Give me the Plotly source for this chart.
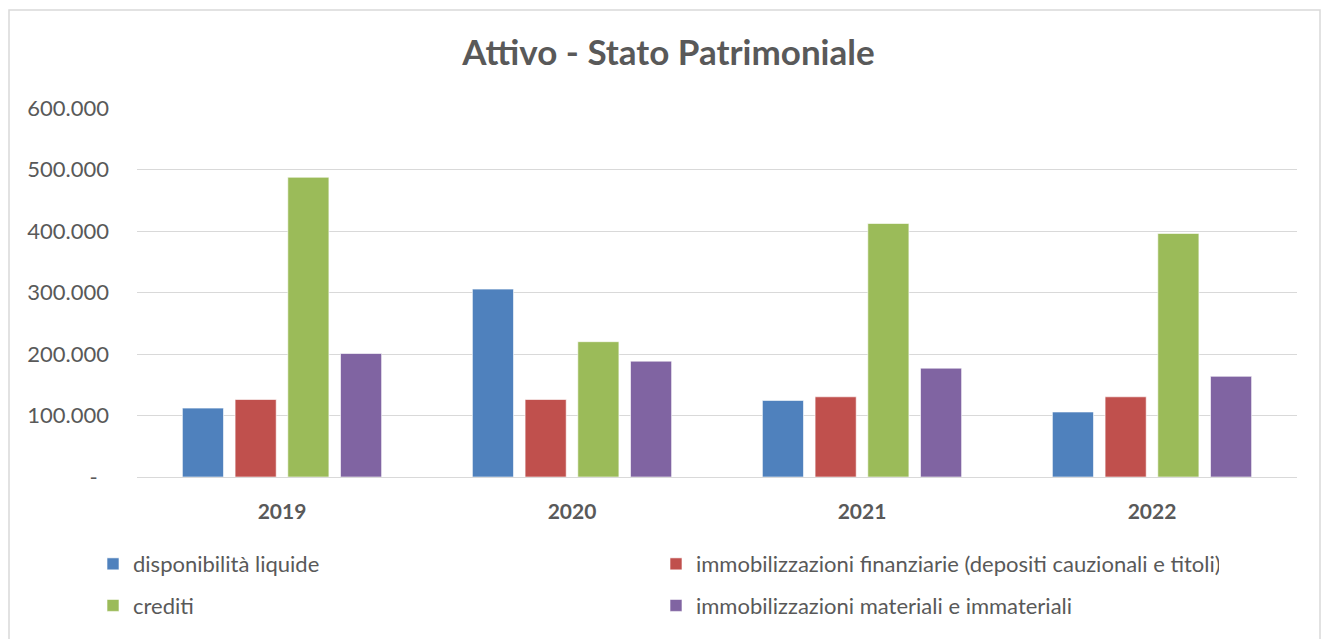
import plotly.graph_objects as go

# Dati (valori in euro)
anni = ["2019", "2020", "2021", "2022"]
disponibilita_liquide = [112000, 305500, 124500, 105700]
immob_finanziarie = [126000, 126000, 130400, 130400]
crediti = [487400, 220000, 412200, 396000]
immob_materiali = [200800, 188400, 177000, 163700]

serie = [
    ("disponibilità liquide", disponibilita_liquide, "#4F81BD", "legend"),
    ("immobilizzazioni finanziarie (depositi cauzionali e titoli)", immob_finanziarie, "#C0504D", "legend"),
    ("crediti", crediti, "#9BBB59", "legend2"),
    ("immobilizzazioni materiali e immateriali", immob_materiali, "#8064A2", "legend2"),
]

y_tick_vals = [0, 100000, 200000, 300000, 400000, 500000, 600000]
y_tick_text = ["-\u00a0\u00a0", "100.000", "200.000", "300.000", "400.000", "500.000", "600.000"]

FONT = "Lato"
GRIGIO = "#595959"

fig = go.Figure()

for nome, valori, colore, leg in serie:
    fig.add_trace(go.Bar(
        x=anni,
        y=valori,
        name=nome,
        legend=leg,
        marker=dict(color=colore, line=dict(color="rgba(255,255,255,0.6)", width=1)),
    ))

# la pagina ha 8px di margine: la figura occupa il resto della finestra
OFF = 8
W, H = 1329 - OFF, 639 - OFF
# area del grafico nella pagina: x 137..1297, y 108..481
L, T = 137 - OFF, 108 - OFF
R, B = 1329 - 1297, 639 - 481
pw, ph = W - L - R, H - T - B


def px_x(x):
    return (x - OFF - L) / pw


def px_y(y):
    return (H - B - (y - OFF)) / ph


legenda = dict(
    orientation="h",
    xanchor="left",
    yanchor="middle",
    entrywidth=518, entrywidthmode="pixels",
    font=dict(family=FONT, size=22, color=GRIGIO),
    itemwidth=30,
    bgcolor="rgba(0,0,0,0)",
)

fig.update_layout(
    width=W,
    height=H,
    margin=dict(l=L, r=R, t=T, b=B),
    paper_bgcolor="white",
    plot_bgcolor="white",
    barmode="group",
    bargap=0.273,
    bargroupgap=0.22,
    font=dict(family=FONT, color=GRIGIO, size=20),
    title=dict(
        text="<b>Attivo - Stato Patrimoniale</b>",
        x=0.5, xanchor="center",
        y=1 - (53 - OFF) / H, yanchor="middle",
        font=dict(family=FONT, size=35, color=GRIGIO),
    ),
    xaxis=dict(
        showgrid=False,
        showline=True,
        linecolor="#d9d9d9",
        linewidth=1,
        tickfont=dict(family=FONT, size=21, color=GRIGIO, weight="bold"),
        ticklabelstandoff=16,
    ),
    yaxis=dict(
        range=[0, 600000],
        tickvals=y_tick_vals,
        ticktext=y_tick_text,
        showgrid=True,
        gridcolor="#d9d9d9",
        gridwidth=1,
        zeroline=False,
        tickfont=dict(family=FONT, size=22, color=GRIGIO),
        ticklabelstandoff=27,
    ),
    legend=dict(legenda, x=px_x(93), y=px_y(569)),
    legend2=dict(legenda, x=px_x(93), y=px_y(611)),
    showlegend=True,
)

# Cornice del grafico
fig.add_shape(
    type="rect", xref="paper", yref="paper",
    x0=px_x(9), x1=px_x(1320),
    y0=px_y(660), y1=px_y(9),
    line=dict(color="#d9d9d9", width=1.5),
    fillcolor="rgba(0,0,0,0)",
    layer="below",
)

fig.write_html("out.html")
